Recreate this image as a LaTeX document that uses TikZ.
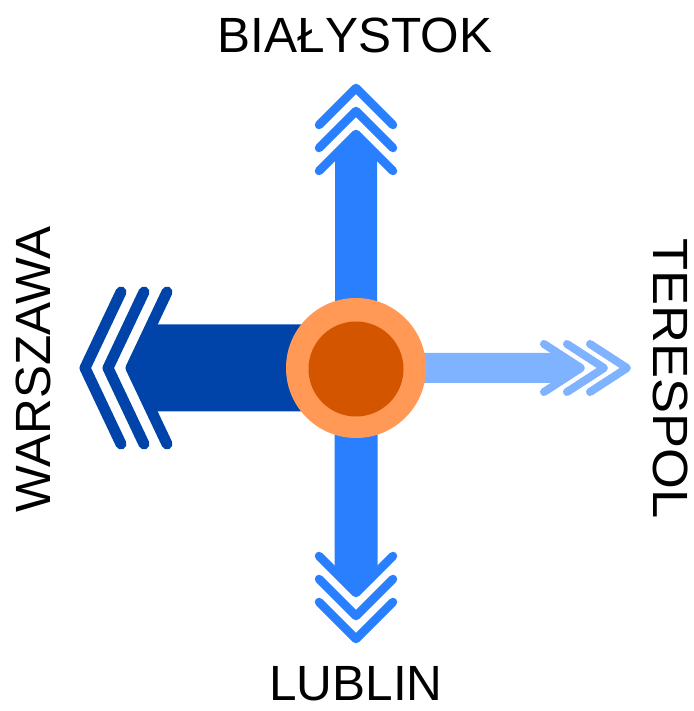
\documentclass[tikz,border=0pt]{standalone}
\usepackage{fontspec}
\setmainfont{Liberation Sans}
\usepackage{tikz}
\usetikzlibrary{calc}
\definecolor{upblue}{HTML}{2A7FFF}
\definecolor{darkblue}{HTML}{0044AA}
\definecolor{lightblue}{HTML}{80B3FF}
\definecolor{ringorange}{HTML}{FF9955}
\definecolor{coreorange}{HTML}{D45500}
\tikzset{
  townlabel/.style={font=\fontsize{49.5}{50}\selectfont, inner sep=0pt},
  chevron/.style={line cap=round, line join=round},
  ringnode/.style={circle, fill=ringorange, minimum size=140pt, inner sep=0pt},
  corenode/.style={circle, fill=coreorange, minimum size=95pt, inner sep=0pt}
}
% #1 angle, #2 tip, #3 half shaft, #4 half head, #5 head depth, #6 colour, #7 stroke
\newcommand{\routearrow}[7]{%
  \begin{scope}[shift={(centre)}, rotate=#1]
    \fill[#6] (0,-#3) -- ({#2-#5*#3/#4},-#3) -- (#2,0)
      -- ({#2-#5*#3/#4},#3) -- (0,#3) -- cycle;
    \foreach \k in {0,1,2}
      \draw[chevron, line width=#7, #6] ({#2-#5+23*\k},#4) -- ({#2+23*\k},0) -- ({#2-#5+23*\k},-#4);
  \end{scope}}

\begin{document}
\begin{tikzpicture}[x=1pt, y=1pt]
  \useasboundingbox (-356,-343) rectangle (337,368);
  \coordinate (centre) at (0,0);

  \routearrow{90}{234}{21}{37}{37}{upblue}{8.5pt}
  \routearrow{-90}{225}{21.5}{37}{37}{upblue}{8.5pt}
  \routearrow{180}{225}{43.5}{76}{36}{darkblue}{11pt}
  \routearrow{0}{225}{15}{24}{37}{lightblue}{8pt}

  \node[ringnode] (hub) at (centre) {};
  \node[corenode] (core) at ($(hub.center)+(0,-1)$) {};

  \node[townlabel] (bialystok) at (-1,333) {BIAŁYSTOK};
  \node[townlabel] (lublin) at (0,-316) {LUBLIN};
  \node[townlabel, rotate=90] (warszawa) at (-322.5,-1.5) {WARSZAWA};
  \node[townlabel, rotate=-90] (terespol) at (314.5,-10.5) {\scalebox{1.06}[1]{TERESPOL}};
\end{tikzpicture}
\end{document}
